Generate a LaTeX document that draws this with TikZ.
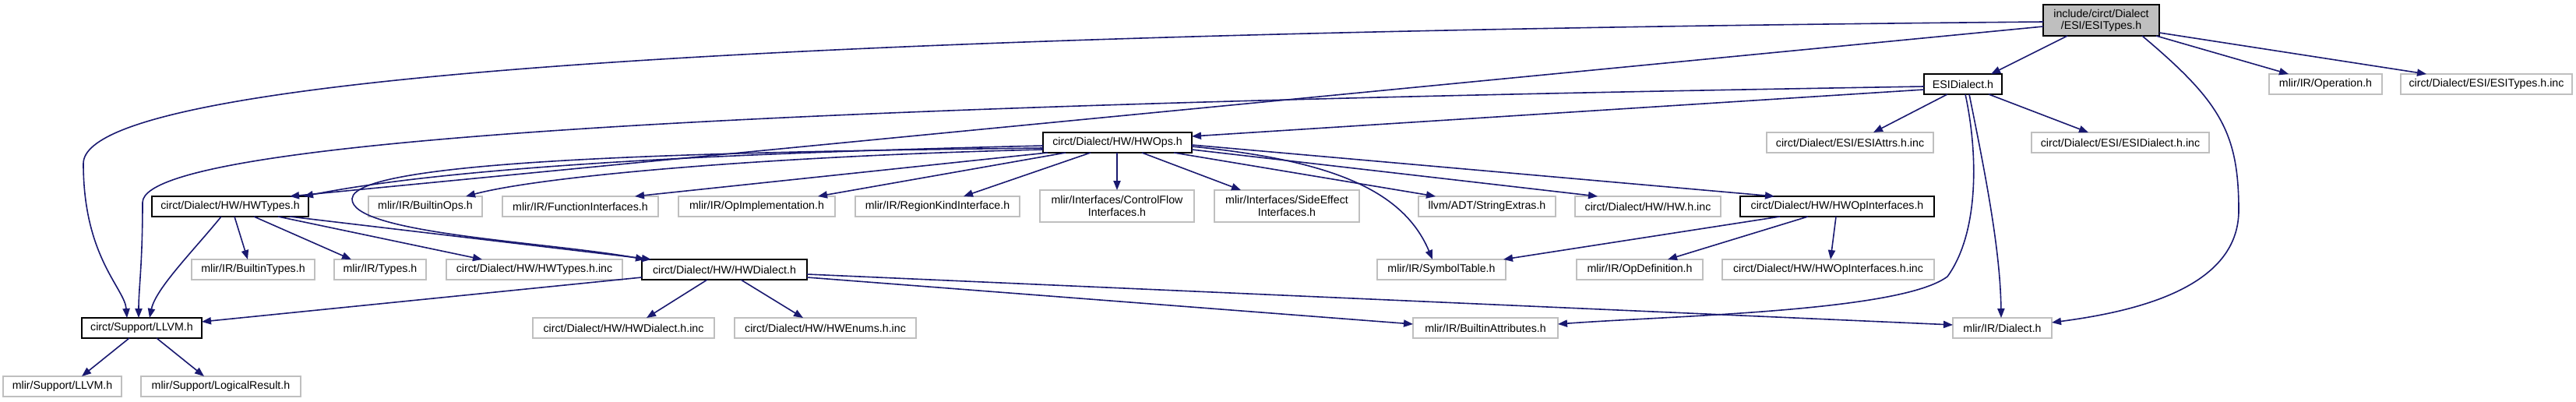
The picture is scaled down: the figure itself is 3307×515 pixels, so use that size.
\documentclass[tikz,border=0pt]{standalone}
\usepackage{fontspec}
\setmainfont{Liberation Sans}
\usetikzlibrary{arrows.meta,calc}
\definecolor{edgeblue}{HTML}{191970}
\definecolor{lgray}{HTML}{BFBFBF}
\newcommand\mknode[7]{\node[#1, minimum width={(#4-#3)*0.5pt}, minimum height={(#6-#5)*0.5pt}] (#2) at ({(#3+#4)/2},{(#5+#6)/2}) {#7};}
\newcommand\pt[3]{($(#1.north west)+(#2,#3)$)}
\begin{document}
\begin{tikzpicture}[x=0.5pt,y=-0.5pt,
  box/.style={inner sep=0pt, outer sep=0pt, align=center, font=\fontsize{7.1pt}{7.6pt}\selectfont, line width=0.8pt},
  doc/.style={box, draw=black, fill=white},
  undoc/.style={box, draw=lgray, fill=white},
  rootn/.style={box, draw=black, fill=lgray},
  e/.style={draw=edgeblue, line width=0.8pt, -{Triangle[length=6pt,width=4.6pt]}, edgeblue}]
\useasboundingbox (0,0) rectangle (3307,515);
% nodes
\mknode{rootn}{root}{2623}{2772}{6}{46}{include/circt/Dialect\\/ESI/ESITypes.h}
\mknode{doc}{esid}{2470}{2570}{95}{121}{ESIDialect.h}
\mknode{undoc}{oper}{2913}{3058}{95}{121}{mlir/IR/Operation.h}
\mknode{undoc}{esitinc}{3082}{3302}{95}{121}{circt/Dialect/ESI/ESITypes.h.inc}
\mknode{doc}{hwops}{1339}{1530}{170}{196}{circt/Dialect/HW/HWOps.h}
\mknode{undoc}{esiattrs}{2268}{2482}{170}{196}{circt/Dialect/ESI/ESIAttrs.h.inc}
\mknode{undoc}{esidinc}{2608}{2836}{170}{196}{circt/Dialect/ESI/ESIDialect.h.inc}
\mknode{doc}{hwtypes}{195}{396}{252}{278}{circt/Dialect/HW/HWTypes.h}
\mknode{undoc}{bops}{473}{619}{252}{278}{mlir/IR/BuiltinOps.h}
\mknode{undoc}{funci}{645}{845}{252}{278}{mlir/IR/FunctionInterfaces.h}
\mknode{undoc}{opimpl}{871}{1072}{252}{278}{mlir/IR/OpImplementation.h}
\mknode{undoc}{regk}{1098}{1309}{252}{278}{mlir/IR/RegionKindInterface.h}
\mknode{undoc}{cflow}{1335}{1533}{244}{285}{mlir/Interfaces/ControlFlow\\Interfaces.h}
\mknode{undoc}{seff}{1559}{1745}{244}{285}{mlir/Interfaces/SideEffect\\Interfaces.h}
\mknode{undoc}{strx}{1821}{1997}{252}{278}{llvm/ADT/StringExtras.h}
\mknode{undoc}{hwinc}{2022}{2209}{252}{278}{circt/Dialect/HW/HW.h.inc}
\mknode{doc}{hwopi}{2234}{2483}{252}{278}{circt/Dialect/HW/HWOpInterfaces.h}
\mknode{undoc}{btypes}{246}{404}{333}{359}{mlir/IR/BuiltinTypes.h}
\mknode{undoc}{types}{429}{547}{333}{359}{mlir/IR/Types.h}
\mknode{undoc}{hwtinc}{573}{799}{333}{359}{circt/Dialect/HW/HWTypes.h.inc}
\mknode{doc}{hwd}{824}{1036}{333}{359}{circt/Dialect/HW/HWDialect.h}
\mknode{undoc}{symt}{1768}{1933}{333}{359}{mlir/IR/SymbolTable.h}
\mknode{undoc}{opdef}{2024}{2186}{333}{359}{mlir/IR/OpDefinition.h}
\mknode{undoc}{hwopiinc}{2211}{2483}{333}{359}{circt/Dialect/HW/HWOpInterfaces.h.inc}
\mknode{doc}{cllvm}{105}{259}{408}{434}{circt/Support/LLVM.h}
\mknode{undoc}{hwdinc}{684}{917}{408}{434}{circt/Dialect/HW/HWDialect.h.inc}
\mknode{undoc}{hwenum}{943}{1176}{408}{434}{circt/Dialect/HW/HWEnums.h.inc}
\mknode{undoc}{battr}{1814}{2000}{408}{434}{mlir/IR/BuiltinAttributes.h}
\mknode{undoc}{dial}{2507}{2634}{408}{434}{mlir/IR/Dialect.h}
\mknode{undoc}{mllvm}{4}{156}{483}{509}{mlir/Support/LLVM.h}
\mknode{undoc}{lres}{181}{386}{483}{509}{mlir/Support/LogicalResult.h}
% edges from root
\draw[e] \pt{root}{31}{40} -- \pt{esid}{86}{0};
\draw[e] \pt{root}{145}{40} -- \pt{oper}{25}{0};
\draw[e] \pt{root}{149}{36} -- \pt{esitinc}{33}{0};
\draw[e] \pt{root}{127}{40} .. controls (2850,130) and (2874,170) .. (2874,270) .. controls (2874,370) and (2740,400) .. \pt{dial}{127}{6};
\draw[e] \pt{root}{0}{22} .. controls (1300,40) and (107,80) .. (107,210) .. controls (107,330) and (160,370) .. \pt{cllvm}{58}{0};
\draw[e] \pt{root}{0}{28} -- \pt{hwtypes}{177}{0};
% edges from ESIDialect.h
\draw[e] \pt{esid}{0}{20} -- \pt{hwops}{191}{5};
\draw[e] \pt{esid}{0}{16} .. controls (1300,130) and (183,165) .. (183,260) .. controls (183,340) and (178,370) .. \pt{cllvm}{73}{0};
\draw[e] \pt{esid}{30}{26} -- \pt{esiattrs}{137}{0};
\draw[e] \pt{esid}{83}{26} -- \pt{esidinc}{73}{0};
\draw[e] \pt{esid}{53}{26} .. controls (2540,200) and (2540,300) .. (2500,355) .. controls (2440,400) and (2150,405) .. \pt{battr}{186}{8};
\draw[e] \pt{esid}{58}{26} .. controls (2548,220) and (2568,320) .. \pt{dial}{62}{0};
% edges from HWOps.h
\draw[e] \pt{hwops}{0}{17} .. controls (1000,195) and (600,210) .. \pt{hwtypes}{195}{0};
\draw[e] \pt{hwops}{0}{20} .. controls (900,195) and (455,205) .. (452,255) .. controls (450,300) and (700,310) .. \pt{hwd}{4}{0};
\draw[e] \pt{hwops}{0}{22} .. controls (1000,200) and (700,225) .. \pt{bops}{125}{0};
\draw[e] \pt{hwops}{6}{26} -- \pt{funci}{170}{0};
\draw[e] \pt{hwops}{29}{26} -- \pt{opimpl}{179}{0};
\draw[e] \pt{hwops}{61}{26} -- \pt{regk}{139}{0};
\draw[e] \pt{hwops}{95}{26} -- \pt{cflow}{99}{0};
\draw[e] \pt{hwops}{127}{26} -- \pt{seff}{34}{0};
\draw[e] \pt{hwops}{168}{26} -- \pt{strx}{22}{0};
\draw[e] \pt{hwops}{191}{22} -- \pt{hwinc}{29}{0};
\draw[e] \pt{hwops}{191}{16} -- \pt{hwopi}{44}{0};
\draw[e] \pt{hwops}{191}{18} .. controls (1700,205) and (1800,240) .. \pt{symt}{71}{0};
% edges from HWTypes.h
\draw[e] \pt{hwtypes}{89}{26} .. controls (250,320) and (200,370) .. \pt{cllvm}{87}{0};
\draw[e] \pt{hwtypes}{106}{26} -- \pt{btypes}{72}{0};
\draw[e] \pt{hwtypes}{131}{26} -- \pt{types}{22}{0};
\draw[e] \pt{hwtypes}{162}{26} -- \pt{hwtinc}{46}{0};
\draw[e] \pt{hwtypes}{177}{26} -- \pt{hwd}{12}{0};
% edges from HWOpInterfaces.h
\draw[e] \pt{hwopi}{51}{26} -- \pt{symt}{162}{0};
\draw[e] \pt{hwopi}{87}{26} -- \pt{opdef}{117}{0};
\draw[e] \pt{hwopi}{123}{26} -- \pt{hwopiinc}{139}{0};
% edges from HWDialect.h
\draw[e] \pt{hwd}{0}{23} -- \pt{cllvm}{154}{5};
\draw[e] \pt{hwd}{84}{26} -- \pt{hwdinc}{146}{0};
\draw[e] \pt{hwd}{127}{26} -- \pt{hwenum}{88}{0};
\draw[e] \pt{hwd}{212}{23} -- \pt{battr}{0}{8};
\draw[e] \pt{hwd}{212}{19} -- \pt{dial}{0}{9};
% edges from circt/Support/LLVM.h
\draw[e] \pt{cllvm}{61}{26} -- \pt{mllvm}{101}{0};
\draw[e] \pt{cllvm}{96}{26} -- \pt{lres}{81}{0};
\end{tikzpicture}
\end{document}
